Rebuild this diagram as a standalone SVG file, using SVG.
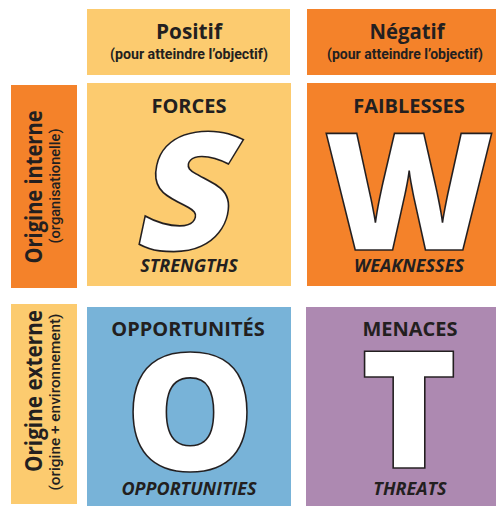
<svg xmlns="http://www.w3.org/2000/svg" width="496" height="506" viewBox="0 0 496 506">
<style>
.lo{fill:#FCCB6F}.or{fill:#F4822A}.bl{fill:#78B3D8}.pu{fill:#AD89B1}
text{font-family:"Open Sans","Noto Sans","DejaVu Sans",sans-serif;fill:#231F20;text-anchor:middle}
.h{font-size:22px;font-weight:700}
.sub{font-family:Roboto,"Liberation Sans",sans-serif;font-size:15.5px;font-weight:700}
.t{font-size:20px;font-weight:700}
.e{font-size:18px;font-weight:700;font-style:italic}
.big{font-size:164px;font-weight:800;fill:#fff;stroke:#231F20;stroke-width:1.6px}
.v{font-size:23px;font-weight:700}
.vs{font-family:Roboto,"Liberation Sans",sans-serif;font-size:14px;font-weight:500}
</style>
<g id="header-positif"><rect class="lo" x="87" y="9" width="203" height="66"/><text class="h" x="189" y="39" textLength="66" lengthAdjust="spacingAndGlyphs">Positif</text><text class="sub" x="189" y="59" textLength="158" lengthAdjust="spacingAndGlyphs">(pour atteindre l’objectif)</text></g>
<g id="header-negatif"><rect class="or" x="307" y="9" width="189" height="66"/><text class="h" x="407" y="39" textLength="75" lengthAdjust="spacingAndGlyphs">Négatif</text><text class="sub" x="405" y="59" textLength="156" lengthAdjust="spacingAndGlyphs">(pour atteindre l’objectif)</text></g>
<g id="label-interne"><rect class="or" x="11" y="85" width="66" height="203"/><text class="v" transform="translate(42,187) rotate(-90)" textLength="153" lengthAdjust="spacingAndGlyphs">Origine interne</text><text class="vs" transform="translate(60,186) rotate(-90)" textLength="115" lengthAdjust="spacingAndGlyphs">(organisationelle)</text></g>
<g id="label-externe"><rect class="lo" x="11" y="304" width="66" height="200"/><text class="v" transform="translate(42,391) rotate(-90)" textLength="162" lengthAdjust="spacingAndGlyphs">Origine externe</text><text class="vs" transform="translate(60,402) rotate(-90)" textLength="177" lengthAdjust="spacingAndGlyphs">(origine + environnement)</text></g>
<g id="forces"><rect class="lo" x="87" y="83" width="204" height="203"/><text class="t" x="189" y="113">FORCES</text><text class="big" transform="translate(178,250) skewX(-12)" x="0" y="0">S</text><text class="e" x="189" y="272">STRENGTHS</text></g>
<g id="faiblesses"><rect class="or" x="307" y="83" width="189" height="203"/><text class="t" x="409" y="113">FAIBLESSES</text><text class="big" x="409" y="250">W</text><text class="e" x="409" y="272">WEAKNESSES</text></g>
<g id="opportunites"><rect class="bl" x="87" y="307" width="204" height="199"/><text class="t" x="188" y="336">OPPORTUNITÉS</text><text class="big" x="190" y="470">O</text><text class="e" x="189" y="495">OPPORTUNITIES</text></g>
<g id="menaces"><rect class="pu" x="306" y="307" width="190" height="199"/><text class="t" x="410" y="336">MENACES</text><text class="big" x="409" y="468">T</text><text class="e" x="410" y="495">THREATS</text></g>
<g id="connectors"/>
</svg>
